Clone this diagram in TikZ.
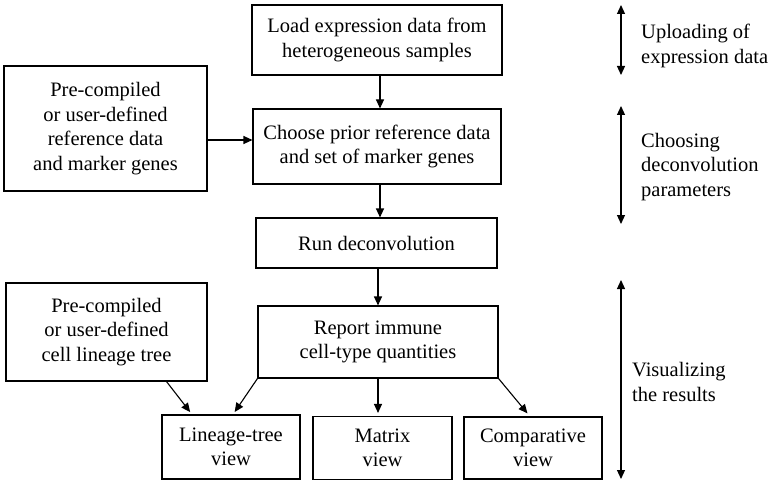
\documentclass[tikz,border=0pt]{standalone}
\usepackage{fontspec}
\setmainfont{Liberation Serif}
\usetikzlibrary{arrows.meta}
\tikzset{
  box/.style={draw,line width=1.1pt,align=center,inner sep=0pt,font=\fontsize{20.5}{24.5}\selectfont},
  flow/.style={line width=1.1pt,-{Triangle[length=9pt,width=8pt]}},
  span/.style={line width=1.1pt,{Triangle[length=9pt,width=8pt]}-{Triangle[length=9pt,width=8pt]}},
  side/.style={anchor=west,align=left,inner sep=0pt,font=\fontsize{20.5}{24.5}\selectfont}
}
\begin{document}
\begin{tikzpicture}[x=1pt,y=-1pt]

\useasboundingbox (0,0) rectangle (776,484);

\node[box,minimum width=250pt,minimum height=70pt] (load) at (377,40) {Load expression data from\\heterogeneous samples};
\node[box,minimum width=248pt,minimum height=75pt] (choose) at (377,146.5) {Choose prior reference data\\and set of marker genes};
\node[box,minimum width=203pt,minimum height=125pt] (refdata) at (105.5,128.5) {Pre-compiled\\or user-defined\\reference data\\and marker genes};
\node[box,minimum width=241pt,minimum height=50pt] (run) at (376.5,243) {Run deconvolution};
\node[box,minimum width=240pt,minimum height=72pt] (report) at (378,342) {Report immune\\cell-type quantities};
\node[box,minimum width=201pt,minimum height=98pt] (tree) at (106.5,332) {Pre-compiled\\or user-defined\\cell lineage tree};
\node[box,minimum width=138pt,minimum height=64pt] (lineage) at (231,447) {Lineage-tree\\view};
\node[box,minimum width=139pt,minimum height=63pt] (matrix) at (382.5,448) {Matrix\\view};
\node[box,minimum width=138pt,minimum height=62pt] (compar) at (533,448) {Comparative\\view};

\draw[flow] ([xshift=3pt]load.south) -- ([xshift=3pt]choose.north);
\draw[flow] ([xshift=3pt]choose.south) -- ([xshift=3pt]choose.south |- run.north);
\draw[flow] (report.north |- run.south) -- (report.north);
\draw[flow] ([yshift=6.5pt]choose.west -| refdata.east) -- ([yshift=6.5pt]choose.west);
\draw[flow,shorten >=3pt] ([xshift=60pt]tree.south) -- ([xshift=-39pt]lineage.north);
\draw[flow,shorten >=3pt] (report.south west) -- ([xshift=2pt]lineage.north);
\draw[flow,shorten >=3pt] (report.south) -- (report.south |- matrix.north);
\draw[flow,shorten >=4pt] (report.south east) -- ([xshift=-3pt]compar.north);

\coordinate (u1) at (621,5);
\coordinate (u2) at (621,75);
\coordinate (c1) at (621,106);
\coordinate (c2) at (621,224);
\coordinate (v1) at (621,280);
\coordinate (v2) at (621,479);

\draw[span] (u1) -- (u2);
\draw[span] (c1) -- (c2);
\draw[span] (v1) -- (v2);

\node[side] (upload) at (641,46) {Uploading of\\expression data};
\node[side] (params) at (641,167) {Choosing\\deconvolution\\parameters};
\node[side] (visual) at (632,382) {Visualizing\\the results};

\end{tikzpicture}
\end{document}
